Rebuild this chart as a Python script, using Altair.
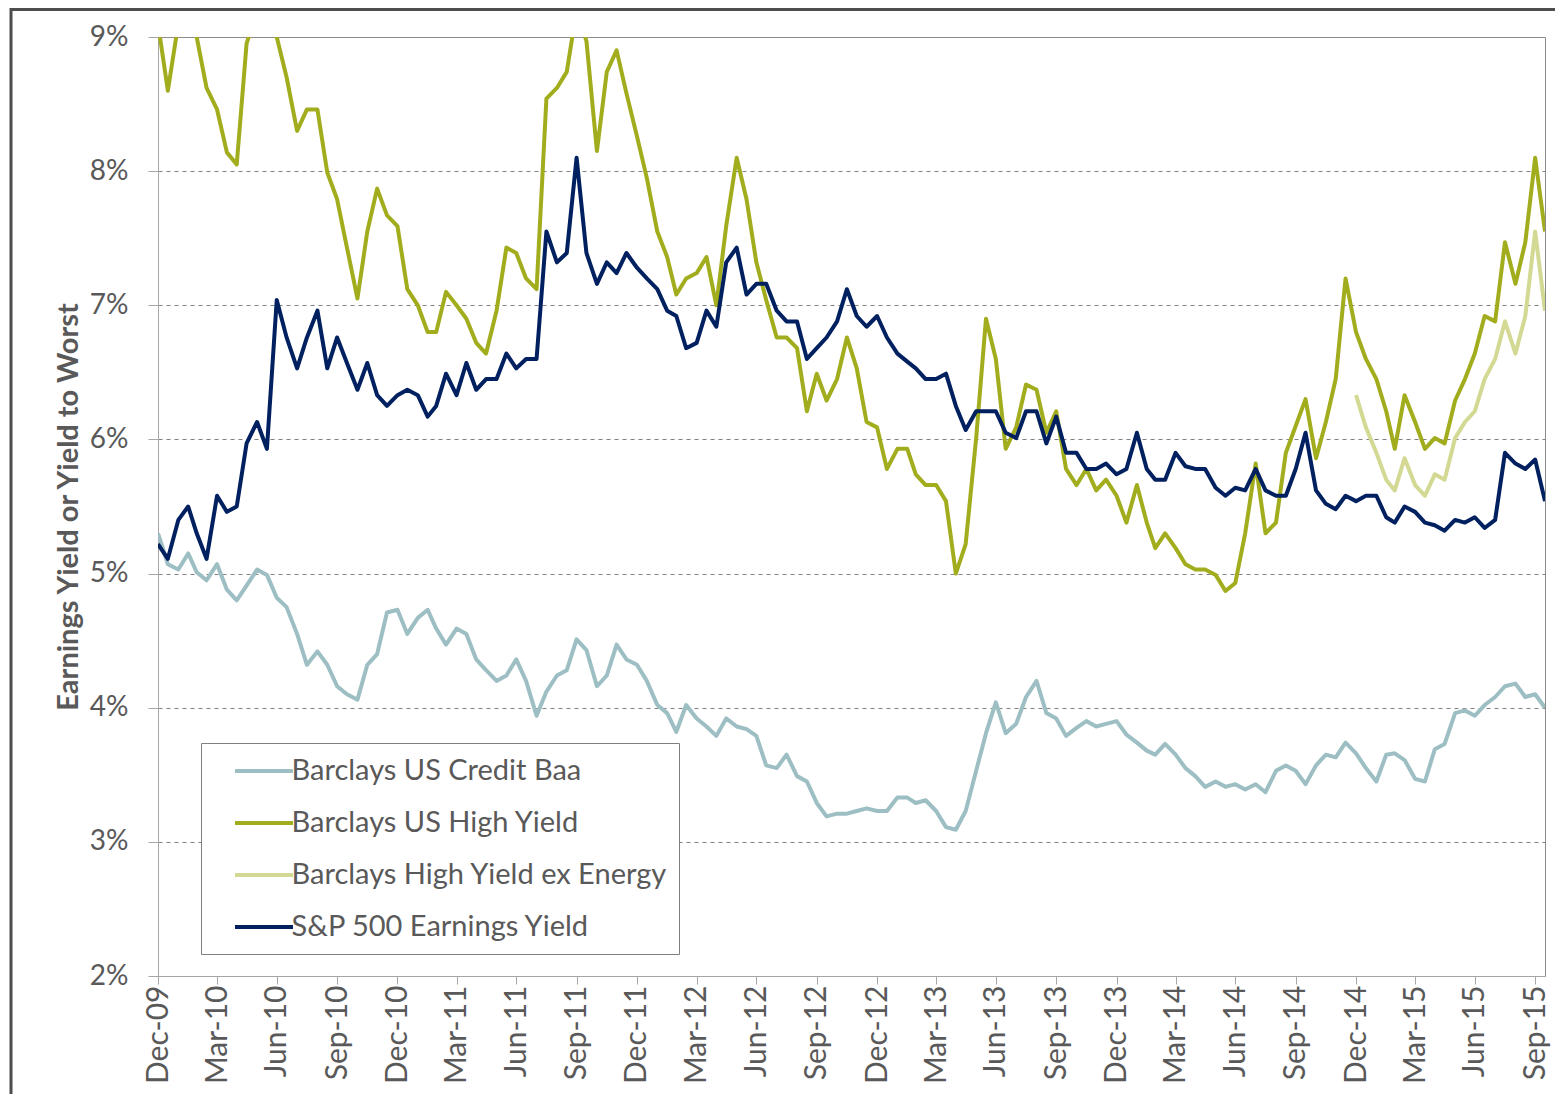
import calendar
import altair as alt
import pandas as pd

# ---- x grid: 31-Dec-2009, then the 15th and month-end of every month, then 15-Oct-2015
dates = ["2009-12-31"]
for yr in range(2010, 2016):
    for mo in range(1, 13):
        if yr == 2015 and mo > 9:
            break
        dates.append(f"{yr}-{mo:02d}-15")
        dates.append(f"{yr}-{mo:02d}-{calendar.monthrange(yr, mo)[1]:02d}")
dates.append("2015-10-15")

credit_baa = [
    5.30, 5.07, 5.03, 5.15, 5.01, 4.95, 5.07, 4.88, 4.80, 4.91,
    5.03, 4.99, 4.82, 4.75, 4.55, 4.32, 4.42, 4.32, 4.16, 4.10,
    4.06, 4.32, 4.40, 4.71, 4.73, 4.55, 4.67, 4.73, 4.59, 4.47,
    4.59, 4.55, 4.36, 4.28, 4.20, 4.24, 4.36, 4.20, 3.94, 4.12,
    4.24, 4.28, 4.51, 4.43, 4.16, 4.24, 4.47, 4.36, 4.32, 4.20,
    4.02, 3.96, 3.82, 4.02, 3.92, 3.86, 3.79, 3.92, 3.86, 3.84,
    3.79, 3.57, 3.55, 3.65, 3.49, 3.45, 3.29, 3.19, 3.21, 3.21,
    3.23, 3.25, 3.23, 3.23, 3.33, 3.33, 3.29, 3.31, 3.23, 3.11,
    3.09, 3.23, 3.53, 3.81, 4.04, 3.81, 3.88, 4.08, 4.20, 3.96,
    3.92, 3.79, 3.85, 3.90, 3.86, 3.88, 3.90, 3.80, 3.74, 3.68,
    3.65, 3.73, 3.65, 3.55, 3.49, 3.41, 3.45, 3.41, 3.43, 3.39,
    3.43, 3.37, 3.53, 3.57, 3.53, 3.43, 3.57, 3.65, 3.63, 3.74,
    3.66, 3.55, 3.45, 3.65, 3.66, 3.61, 3.47, 3.45, 3.69, 3.73,
    3.96, 3.98, 3.94, 4.02, 4.08, 4.16, 4.18, 4.08, 4.10, 4.00,
]

high_yield = [
    9.10, 8.60, 9.10, 9.30, 9.00, 8.62, 8.46, 8.14, 8.05, 8.95,
    9.20, 9.10, 9.00, 8.70, 8.30, 8.46, 8.46, 7.99, 7.79, 7.43,
    7.05, 7.55, 7.87, 7.67, 7.59, 7.12, 7.00, 6.80, 6.80, 7.10,
    7.00, 6.90, 6.72, 6.64, 6.96, 7.43, 7.39, 7.20, 7.12, 8.54,
    8.62, 8.74, 9.20, 8.97, 8.15, 8.74, 8.90, 8.58, 8.26, 7.95,
    7.55, 7.36, 7.08, 7.20, 7.24, 7.36, 7.00, 7.59, 8.10, 7.79,
    7.32, 7.04, 6.76, 6.76, 6.68, 6.21, 6.49, 6.29, 6.45, 6.76,
    6.53, 6.13, 6.09, 5.78, 5.93, 5.93, 5.74, 5.66, 5.66, 5.54,
    5.00, 5.22, 6.01, 6.90, 6.60, 5.93, 6.09, 6.41, 6.37, 6.05,
    6.21, 5.78, 5.66, 5.78, 5.62, 5.70, 5.58, 5.38, 5.66, 5.38,
    5.19, 5.30, 5.19, 5.07, 5.03, 5.03, 4.99, 4.87, 4.93, 5.30,
    5.82, 5.30, 5.38, 5.90, 6.10, 6.30, 5.86, 6.13, 6.45, 7.20,
    6.80, 6.60, 6.45, 6.21, 5.93, 6.33, 6.13, 5.93, 6.01, 5.97,
    6.29, 6.45, 6.64, 6.92, 6.88, 7.47, 7.16, 7.47, 8.10, 7.55,
]

# Barclays High Yield ex Energy starts at 31-Dec-2014 (grid index 120)
hy_ex_energy_start = 120
hy_ex_energy = [
    6.33, 6.09, 5.90, 5.70, 5.62, 5.86, 5.66, 5.58, 5.74, 5.70,
    6.01, 6.13, 6.21, 6.45, 6.60, 6.88, 6.64, 6.92, 7.55, 6.96,
]

sp500 = [
    5.22, 5.11, 5.40, 5.50, 5.30, 5.11, 5.58, 5.46, 5.50, 5.97,
    6.13, 5.93, 7.04, 6.76, 6.53, 6.76, 6.96, 6.53, 6.76, 6.57,
    6.37, 6.57, 6.33, 6.25, 6.33, 6.37, 6.33, 6.17, 6.25, 6.49,
    6.33, 6.57, 6.37, 6.45, 6.45, 6.64, 6.53, 6.60, 6.60, 7.55,
    7.32, 7.39, 8.10, 7.39, 7.16, 7.32, 7.24, 7.39, 7.28, 7.20,
    7.12, 6.96, 6.92, 6.68, 6.72, 6.96, 6.84, 7.32, 7.43, 7.08,
    7.16, 7.16, 6.96, 6.88, 6.88, 6.60, 6.68, 6.76, 6.88, 7.12,
    6.92, 6.84, 6.92, 6.76, 6.64, 6.58, 6.53, 6.45, 6.45, 6.49,
    6.25, 6.07, 6.21, 6.21, 6.21, 6.05, 6.01, 6.21, 6.21, 5.97,
    6.17, 5.90, 5.90, 5.78, 5.78, 5.82, 5.74, 5.78, 6.05, 5.78,
    5.70, 5.70, 5.90, 5.80, 5.78, 5.78, 5.64, 5.58, 5.64, 5.62,
    5.78, 5.62, 5.58, 5.58, 5.78, 6.05, 5.62, 5.52, 5.48, 5.58,
    5.54, 5.58, 5.58, 5.42, 5.38, 5.50, 5.46, 5.38, 5.36, 5.32,
    5.40, 5.38, 5.42, 5.34, 5.40, 5.90, 5.82, 5.78, 5.85, 5.54,
]

series_names = [
    "Barclays US Credit Baa",
    "Barclays US High Yield",
    "Barclays High Yield ex Energy",
    "S&P 500 Earnings Yield",
]
series_colors = ["#9dbfc3", "#a2ad1e", "#d3d993", "#002060"]

y_ticks = [2, 3, 4, 5, 6, 7, 8, 9]
x_tick_dates = [(2009, 12, 31)]
for yr in range(2010, 2016):
    for mo, dd in [(3, 31), (6, 30), (9, 30), (12, 31)]:
        if yr == 2015 and mo == 12:
            break
        x_tick_dates.append((yr, mo, dd))

rows = []
for name, vals, start in [
    (series_names[0], credit_baa, 0),
    (series_names[1], high_yield, 0),
    (series_names[2], hy_ex_energy, hy_ex_energy_start),
    (series_names[3], sp500, 0),
]:
    for k, v in enumerate(vals):
        rows.append({"date": dates[start + k], "series": name, "value": v})
df = pd.DataFrame(rows)

FONT = "Lato"
TXT = "#595959"
NBSP = "\u00a0"

lines = alt.Chart(df).mark_line(strokeWidth=4, clip=True, strokeJoin="round").encode(
    x=alt.X(
        "date:T",
        scale=alt.Scale(domain=[alt.DateTime(year=2009, month=12, date=31),
                                alt.DateTime(year=2015, month=10, date=15)]),
        axis=alt.Axis(
            values=[alt.DateTime(year=y, month=m, date=d) for (y, m, d) in x_tick_dates],
            format="%b-%y",
            labelAngle=-90,
            labelAlign="right",
            labelBaseline="middle",
            labelFont=FONT,
            labelFontSize=30,
            labelColor=TXT,
            labelPadding=1,
            tickSize=8,
            tickColor="#a6a6a6",
            domainColor="#a6a6a6",
            grid=False,
            title=None,
            labelOverlap=False,
        ),
    ),
    y=alt.Y(
        "value:Q",
        scale=alt.Scale(domain=[2, 9], nice=False, zero=False),
        axis=alt.Axis(
            values=y_ticks,
            labelExpr="datum.value + '%'",
            labelFont=FONT,
            labelFontSize=28,
            labelColor=TXT,
            labelPadding=20,
            tickSize=10,
            tickColor="#a6a6a6",
            domainColor="#a6a6a6",
            grid=True,
            gridColor="#808080",
            gridDash=[4, 4],
            gridWidth=1,
            gridOpacity={"condition": {"test": "datum.value === 2 || datum.value === 9", "value": 0}, "value": 1},
            title="Earnings Yield or Yield to Worst",
            titleFont=FONT,
            titleFontSize=29,
            titleFontWeight="bold",
            titleColor=TXT,
            titlePadding=6,
        ),
    ),
    color=alt.Color(
        "series:N",
        scale=alt.Scale(domain=series_names, range=series_colors),
        legend=alt.Legend(
            orient="none",
            legendX=43,
            legendY=706,
            title=None,
            strokeColor="#7f7f7f",
            fillColor="white",
            padding=11.5,
            symbolType="M-2,0H2",
            symbolSize=841,
            symbolStrokeWidth=4,
            symbolOffset=35,
            labelFont=FONT,
            labelFontSize=29,
            labelColor=TXT,
            labelOffset=11,
            labelLimit=1000,
            rowPadding=20,
            labelExpr="datum.label + '" + NBSP * 4 + "'",
        ),
    ),
    order=alt.Order("date:T"),
)

frame_df = pd.DataFrame({"k": [0]})
frame_top = alt.Chart(frame_df).mark_rule(color="#4d4d4d", strokeWidth=3, clip=False).encode(
    x=alt.value(-147), x2=alt.value(1400), y=alt.value(-27.5)
)
frame_left = alt.Chart(frame_df).mark_rule(color="#4d4d4d", strokeWidth=3, clip=False).encode(
    x=alt.value(-147), y=alt.value(-29), y2=alt.value(1060)
)

chart = alt.layer(lines, frame_top, frame_left).properties(
    width=1387,
    height=939,
    autosize=alt.AutoSizeParams(type="none"),
    padding={"left": 150, "top": 29, "right": 10, "bottom": 118},
    background="white",
).configure_view(stroke="#8c8c8c", strokeWidth=1)

chart.save("out.html", embed_options={"renderer": "svg", "actions": False})
